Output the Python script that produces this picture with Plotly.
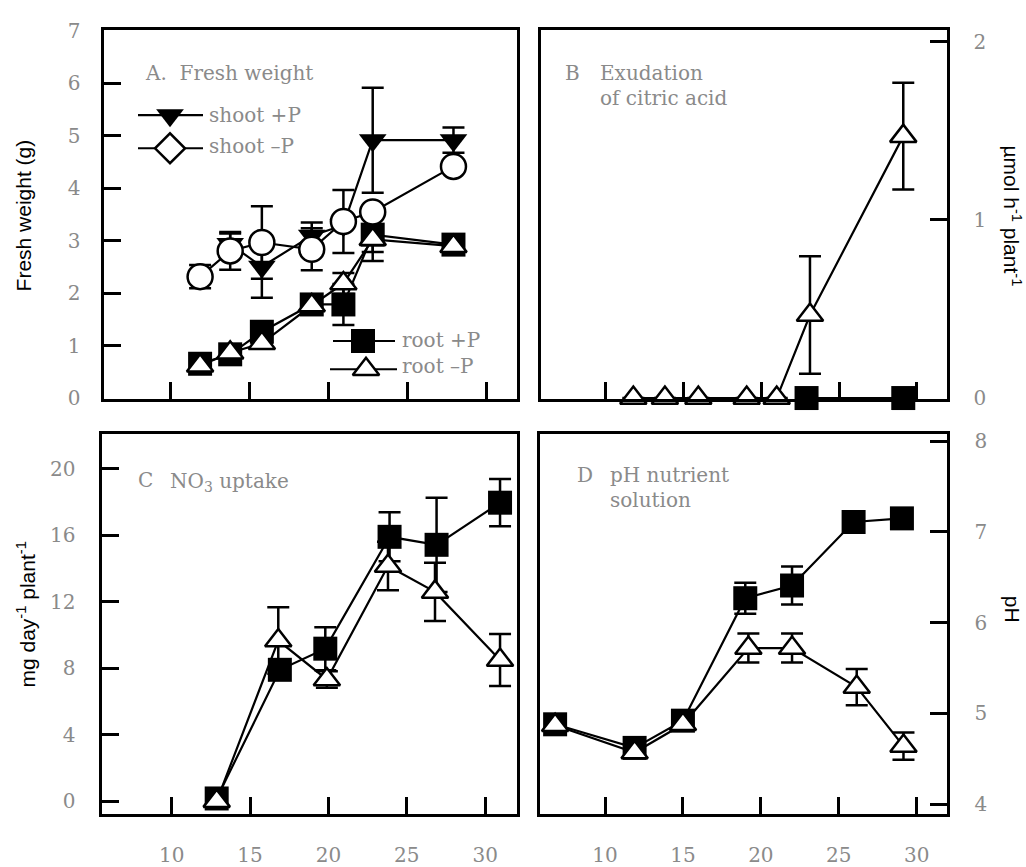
import plotly.graph_objects as go

W, H = 1026, 867

# ---------------- data ----------------
# Panel A: fresh weight (g)
a_days = [11.9, 13.8, 15.8, 18.95, 20.95, 22.8, 27.9]
a_shoot_plus_days = [13.8, 15.8, 18.95, 20.95, 22.8, 27.9]
a_shoot_plus = [2.94, 2.51, 3.10, 3.30, 4.92, 4.92]
a_shoot_plus_err = [0.20, 0.59, 0.25, 0.0, 1.00, 0.24]
a_shoot_minus = [2.32, 2.81, 2.97, 2.84, 3.37, 3.55, 4.42]
a_shoot_minus_err = [0.22, 0.36, 0.69, 0.40, 0.60, 0.0, 0.0]
a_root_plus = [0.66, 0.84, 1.27, 1.79, 1.79, 3.12, 2.93]
a_root_plus_err = [0.0, 0.0, 0.0, 0.0, 0.39, 0.50, 0.0]
a_root_minus = [0.62, 0.87, 1.05, 1.77, 2.19, 3.03, 2.90]
a_root_minus_err = [0.0, 0.0, 0.0, 0.0, 0.20, 0.24, 0.0]

# Panel B: exudation of citric acid (umol h-1 plant-1)
b_minus_days = [11.76, 13.79, 15.94, 19.05, 20.98, 23.12, 29.12]
b_minus = [0.0, 0.0, 0.0, 0.0, 0.0, 0.466, 1.47]
b_minus_err = [0.0, 0.0, 0.0, 0.0, 0.0, 0.33, 0.30]
b_plus_days = [22.9, 29.12]
b_plus = [0.0, 0.0]

# Panel C: NO3 uptake (mg day-1 plant-1)
c_plus_days = [12.87, 16.9, 19.8, 23.9, 26.9, 30.95]
c_plus = [0.18, 7.91, 9.18, 15.90, 15.42, 17.95]
c_plus_err = [0.0, 0.6, 1.29, 1.47, 2.83, 1.42]
c_minus_days = [12.87, 16.8, 19.9, 23.8, 26.8, 30.95]
c_minus = [0.02, 9.67, 7.33, 14.15, 12.59, 8.50]
c_minus_err = [0.0, 2.0, 0.5, 1.46, 1.75, 1.56]

# Panel D: pH nutrient solution
d_plus_days = [6.8, 11.9, 15.0, 19.0, 22.0, 25.95, 29.05]
d_plus = [4.88, 4.62, 4.92, 6.27, 6.41, 7.11, 7.15]
d_plus_err = [0.0, 0.0, 0.0, 0.17, 0.21, 0.0, 0.0]
d_minus_days = [6.8, 11.9, 15.0, 19.2, 22.0, 26.15, 29.15]
d_minus = [4.87, 4.57, 4.88, 5.72, 5.72, 5.29, 4.64]
d_minus_err = [0.0, 0.0, 0.0, 0.16, 0.16, 0.20, 0.15]

x_ticks = [10, 15, 20, 25, 30]
a_yticks = [0, 1, 2, 3, 4, 5, 6, 7]
b_yticks = [0, 1, 2]
c_yticks = [0, 4, 8, 12, 16, 20]
d_yticks = [4, 5, 6, 7, 8]

# ---------------- styles ----------------
TICKFONT = dict(family="DejaVu Serif", size=20, color="#8a8a8a")
PANELFONT = dict(family="DejaVu Serif", size=20, color="#8a8a8a")
TITLEFONT = dict(family="Liberation Sans, Arial", size=21, color="black")

M_TRI_DOWN = dict(symbol="triangle-down", size=24, color="black", line=dict(width=0))
M_CIRC_OPEN = dict(symbol="circle", size=25, color="white", line=dict(color="black", width=2.5))
M_DIAM_OPEN = dict(symbol="diamond", size=23, color="white", line=dict(color="black", width=2.5))
M_SQUARE = dict(symbol="square", size=24, color="black", line=dict(width=0))
M_TRI_OPEN = dict(symbol="triangle-up", size=23, color="white", line=dict(color="black", width=2.5))
LINE = dict(color="black", width=2.2)


def err(arr):
    return dict(type="data", array=arr, visible=True, color="black", thickness=2.5, width=11)


fig = go.Figure()


def add(xs, ys, e, marker, xa, ya):
    fig.add_trace(go.Scatter(
        x=xs, y=ys, mode="lines+markers", line=LINE, marker=marker,
        error_y=err(e) if e is not None else None,
        xaxis=xa, yaxis=ya, cliponaxis=False, hoverinfo="skip"))


# Panel A
add(a_shoot_plus_days, a_shoot_plus, a_shoot_plus_err, M_TRI_DOWN, "x", "y")
add(a_days, a_root_plus, a_root_plus_err, M_SQUARE, "x", "y")
add(a_days, a_shoot_minus, a_shoot_minus_err, M_CIRC_OPEN, "x", "y")
add(a_days, a_root_minus, a_root_minus_err, M_TRI_OPEN, "x", "y")
# Panel B
add(b_plus_days, b_plus, None, M_SQUARE, "x2", "y2")
add(b_minus_days, b_minus, b_minus_err, M_TRI_OPEN, "x2", "y2")
# Panel C
add(c_plus_days, c_plus, c_plus_err, M_SQUARE, "x3", "y3")
add(c_minus_days, c_minus, c_minus_err, M_TRI_OPEN, "x3", "y3")
# Panel D
add(d_plus_days, d_plus, d_plus_err, M_SQUARE, "x4", "y4")
add(d_minus_days, d_minus, d_minus_err, M_TRI_OPEN, "x4", "y4")

# legend glyphs on a pixel overlay axis (layout positions)
legend_items = [
    (138, 203, 170, 107, M_TRI_DOWN),
    (138, 203, 170, 141, M_DIAM_OPEN),
    (333, 395, 363, 339, M_SQUARE),
    (330, 397, 366, 368, M_TRI_OPEN),
]
for x0, x1, xm, yy, mk in legend_items:
    fig.add_trace(go.Scatter(x=[x0, x1], y=[yy, yy], mode="lines", line=LINE,
                             xaxis="x5", yaxis="y5", hoverinfo="skip", cliponaxis=False))
    fig.add_trace(go.Scatter(x=[xm], y=[yy], mode="markers", marker=mk,
                             xaxis="x5", yaxis="y5", hoverinfo="skip", cliponaxis=False))


def px_x(p):
    return p / W


def px_y(p):
    return 1 - p / H


common = dict(showline=True, mirror=True, linecolor="black", linewidth=3,
              ticks="inside", ticklen=17, tickwidth=3, tickcolor="black",
              showgrid=False, zeroline=False, tickfont=TICKFONT, fixedrange=True)

fig.update_layout(
    width=W, height=H, margin=dict(l=0, r=0, t=0, b=0),
    paper_bgcolor="white", plot_bgcolor="rgba(0,0,0,0)", showlegend=False,
    xaxis=dict(domain=[px_x(103.5), px_x(516.5)], range=[5.8, 31.88], anchor="y",
               tickvals=x_ticks, showticklabels=False, **common),
    yaxis=dict(domain=[px_y(398.5), px_y(20)], range=[-0.01, 7.01], anchor="x",
               tickvals=a_yticks, ticklabelstandoff=16, **common),
    xaxis2=dict(domain=[px_x(540.5), px_x(946.5)], range=[5.79, 31.9], anchor="y2",
                tickvals=x_ticks, showticklabels=False, **common),
    yaxis2=dict(domain=[px_y(398.5), px_y(20)], range=[-0.005, 2.063], anchor="x2",
                side="right", tickvals=b_yticks, ticklabelstandoff=20, **common),
    xaxis3=dict(domain=[px_x(101.5), px_x(516.5)], range=[5.52, 32.0], anchor="y3",
                tickvals=x_ticks, ticklabelstandoff=21, **common),
    yaxis3=dict(domain=[px_y(825), px_y(435)], range=[-0.76, 22.05], anchor="x3",
                tickvals=c_yticks, ticklabelstandoff=19, **common),
    xaxis4=dict(domain=[px_x(540), px_x(946.5)], range=[5.83, 31.91], anchor="y4",
                tickvals=x_ticks, ticklabelstandoff=21, **common),
    yaxis4=dict(domain=[px_y(825), px_y(435)], range=[3.89, 8.075], anchor="x4",
                side="right", tickvals=d_yticks, ticklabelstandoff=21, **common),
    xaxis5=dict(domain=[0, 1], range=[0, W], anchor="y5", visible=False, fixedrange=True),
    yaxis5=dict(domain=[0, 1], range=[H, 0], anchor="x5", visible=False, fixedrange=True),
)

ann = []


def text(s, x, y, font, xanchor="left", angle=0):
    ann.append(dict(text=s, x=px_x(x), y=px_y(y), xref="paper", yref="paper",
                    xanchor=xanchor, yanchor="middle", showarrow=False,
                    font=font, textangle=angle))


# panel labels
text("A.  Fresh weight", 143, 64, PANELFONT)
text("shoot +P", 207, 107, PANELFONT)
text("shoot \u2013P", 207, 139, PANELFONT)
text("root +P", 400, 338, PANELFONT)
text("root \u2013P", 400, 365, PANELFONT)
text("B", 563, 64, PANELFONT)
text("Exudation", 598, 64, PANELFONT)
text("of citric acid", 598, 89, PANELFONT)
text("C", 136, 482, PANELFONT)
text("NO<sub>3</sub> uptake", 168, 484, PANELFONT)
text("D", 575, 477, PANELFONT)
text("pH nutrient", 608, 477, PANELFONT)
text("solution", 608, 502, PANELFONT)

# axis titles
text("Fresh weight (g)", 23, 210, TITLEFONT, xanchor="center", angle=-90)
text("mg day<sup>-1</sup> plant<sup>-1</sup>", 26, 620, TITLEFONT, xanchor="center", angle=-90)
text("\u00b5mol h<sup>-1</sup> plant<sup>-1</sup>", 1012, 210, TITLEFONT, xanchor="center", angle=90)
text("pH", 1012, 614, TITLEFONT, xanchor="center", angle=90)

fig.update_layout(annotations=ann)

fig.write_html("out.html")
